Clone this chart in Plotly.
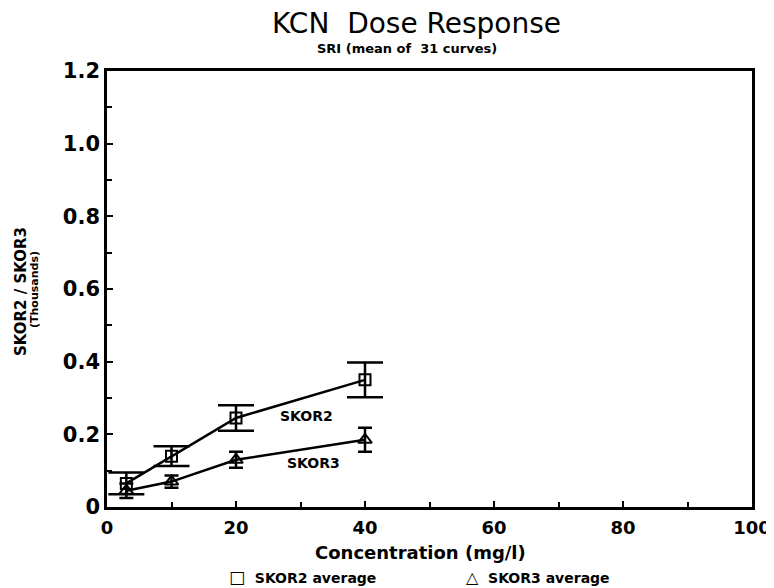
import plotly.graph_objects as go

# ───── datos ──────────────────────────────────────
conc = [3, 10, 20, 40]                      # mg/l
skor2 = [0.065, 0.14, 0.245, 0.35]
skor2_err = [0.03, 0.027, 0.035, 0.048]
skor3 = [0.045, 0.07, 0.13, 0.185]
skor3_err = [0.02, 0.017, 0.022, 0.033]

x_ticks = [0, 20, 40, 60, 80, 100]
y_ticks = [0, 0.2, 0.4, 0.6, 0.8, 1.0, 1.2]
y_ticklabels = ["0", "0.2", "0.4", "0.6", "0.8", "1.0", "1.2"]

FONT = "DejaVu Sans"
OFF = 8                        # margen del <body> de la página
W, H = 774 - OFF, 588 - OFF
# área de trazado en px de la referencia: x 107..752, y 71..507
L, T = 107 - OFF, 71 - OFF
R, B = W - L - (752 - 107), H - T - (507 - 71)


def px(xp):   # px horizontal (referencia) -> paper
    return (xp - 107) / (752 - 107)


def py(yp):   # px vertical (referencia) -> paper
    return (507 - yp) / (507 - 71)


def note(x, y, text, size, bold=True, angle=0):
    fig.add_annotation(
        xref="paper", yref="paper", x=px(x), y=py(y), text=text,
        showarrow=False, xanchor="center", yanchor="middle", textangle=angle,
        font=dict(family=FONT, size=size, color="black",
                  weight="bold" if bold else "normal"),
    )


fig = go.Figure()

# --- SKOR2 (cuadrados) ---
fig.add_scatter(
    x=conc, y=skor2, mode="lines+markers", name="SKOR2 average",
    line=dict(color="black", width=2.5),
    marker=dict(symbol="square-open", size=11, color="black", line=dict(width=2)),
    error_y=dict(type="data", array=skor2_err, color="black", thickness=2.5, width=18),
    cliponaxis=False,
)

# --- SKOR3 (triángulos) ---
fig.add_scatter(
    x=conc, y=skor3, mode="lines+markers", name="SKOR3 average",
    line=dict(color="black", width=2.5),
    marker=dict(symbol="triangle-up-open", size=12, color="black", line=dict(width=2)),
    error_y=dict(type="data", array=skor3_err, color="black", thickness=2.5, width=7),
    cliponaxis=False,
)

# etiquetas de curva
fig.add_annotation(x=31, y=0.25, text="SKOR2", showarrow=False,
                   font=dict(family=FONT, size=14, color="black", weight="bold"))
fig.add_annotation(x=32, y=0.121, text="SKOR3", showarrow=False,
                   font=dict(family=FONT, size=14, color="black", weight="bold"))

# título / subtítulo
note(416, 24, "KCN\u00a0 Dose Response", 28, bold=False)
note(407, 48, "SRI (mean of  31 curves)", 13)

# título eje y (dos líneas)
note(21, 292, "SKOR2 / SKOR3", 15, angle=-90)
note(34, 290, "(Thousands)", 11, angle=-90)

# título eje x
note(420, 552, "Concentration (mg/l)", 18)

# leyenda manual
note(302, 577, "<span style='font-size:17px'>\u25a1</span>  SKOR2 average", 14)
note(538, 577, "<span style='font-size:16px'>\u25b3</span>  SKOR3 average", 14)

fig.update_xaxes(
    range=[0, 100], tickvals=x_ticks, showgrid=False, zeroline=False,
    showline=True, linecolor="black", linewidth=2.5, mirror=True,
    ticks="inside", ticklen=6, tickwidth=1.5, tickcolor="black",
    minor=dict(dtick=10, ticks="inside", ticklen=5, tickwidth=1.5, tickcolor="black"),
    tickfont=dict(family=FONT, size=18, color="black", weight="bold"),
    ticklabelstandoff=3, automargin=False, ticklabeloverflow="allow",
)
fig.update_yaxes(
    range=[0, 1.2], tickvals=y_ticks, ticktext=y_ticklabels,
    showgrid=False, zeroline=False,
    showline=True, linecolor="black", linewidth=2.5, mirror=True,
    ticks="inside", ticklen=6, tickwidth=1.5, tickcolor="black",
    minor=dict(dtick=0.1, ticks="inside", ticklen=5, tickwidth=1.5, tickcolor="black"),
    tickfont=dict(family=FONT, size=21, color="black", weight="bold"),
    automargin=False,
)

fig.update_layout(
    width=W, height=H,
    margin=dict(l=L, r=R, t=T, b=B),
    plot_bgcolor="white", paper_bgcolor="white",
    showlegend=False,
)

fig.write_html("out.html")
